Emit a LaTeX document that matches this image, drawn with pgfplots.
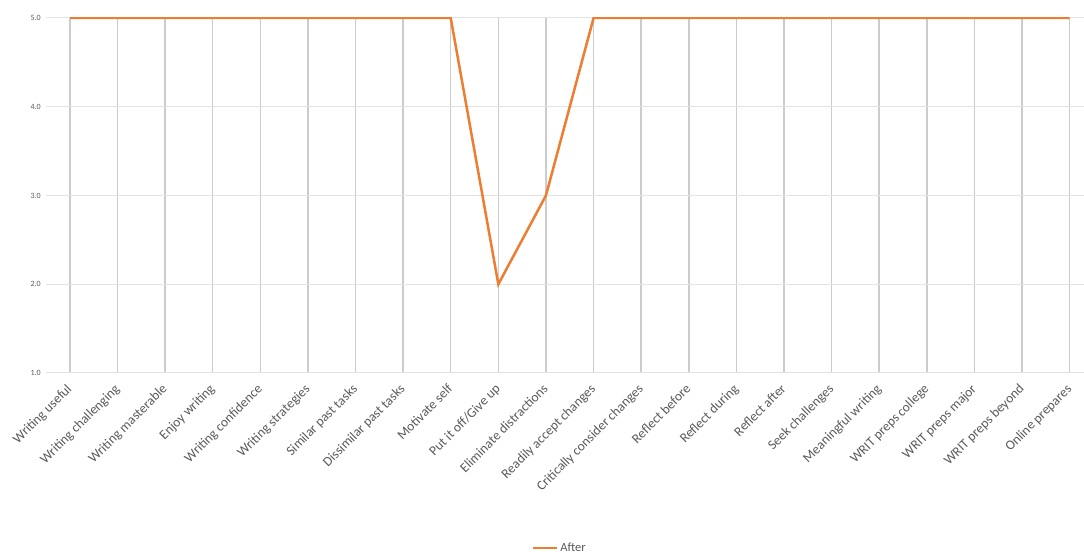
\documentclass[border=0pt]{standalone}
\usepackage{fontspec}
\setmainfont{Carlito}
\usepackage{pgfplots}
\pgfplotsset{compat=1.18}
\definecolor{after}{HTML}{ED7D31}
\definecolor{lbl}{HTML}{595959}
\definecolor{vgrid}{HTML}{CCCCCC}
\definecolor{hgrid}{HTML}{E3E3E3}

\begin{document}
\begin{tikzpicture}
\useasboundingbox (-46pt,-183pt) rectangle (1038pt,373pt);
\begin{axis}[
  at={(0pt,0pt)}, anchor=south west,
  scale only axis, width=1038pt, height=355pt,
  xmin=-0.5, xmax=21.3, ymin=1, ymax=5,
  clip mode=individual,
  axis line style={draw=none},
  tick style={draw=none},
  xmajorgrids, ymajorgrids,
  x grid style={vgrid, line width=1.5pt},
  y grid style={hgrid, line width=1pt},
  xtick={0,...,21},
  xticklabels={Writing useful, Writing challenging, Writing masterable, Enjoy writing,
    Writing confidence, Writing strategies, Similar past tasks, Dissimilar past tasks,
    Motivate self, Put it off/Give up, Eliminate distractions, Readily accept changes,
    Critically consider changes, Reflect before, Reflect during, Reflect after,
    Seek challenges, Meaningful writing, WRIT preps college, WRIT preps major,
    WRIT preps beyond, Online prepares},
  x tick label style={xshift=-4pt, yshift=-8.5pt, rotate=45, anchor=north east,
    text=lbl, font=\fontsize{13.5}{15}\selectfont, inner sep=1pt},
  ytick={1,2,3,4,5},
  y tick label style={text=lbl, font=\fontsize{8}{9}\selectfont, inner sep=1pt, xshift=-4pt},
  /pgf/number format/assume math mode=true,
  yticklabel style={/pgf/number format/.cd, fixed, fixed zerofill, precision=1},
  legend style={at={(0.495,0)}, anchor=center, yshift=-175pt, draw=none,
    fill=none, text=lbl, font=\fontsize{12.5}{14}\selectfont,
    inner sep=0pt, cells={anchor=west}},
  legend image code/.code={\draw[#1] (0pt,0pt) -- (24pt,0pt);},
]
\addplot[after, line width=2.5pt, line join=miter, mark=none] coordinates {
  (0,5) (1,5) (2,5) (3,5) (4,5) (5,5) (6,5) (7,5) (8,5)
  (9,2) (10,3)
  (11,5) (12,5) (13,5) (14,5) (15,5) (16,5) (17,5) (18,5) (19,5) (20,5) (21,5)
};
\addlegendentry{After}
\end{axis}
\end{tikzpicture}
\end{document}
